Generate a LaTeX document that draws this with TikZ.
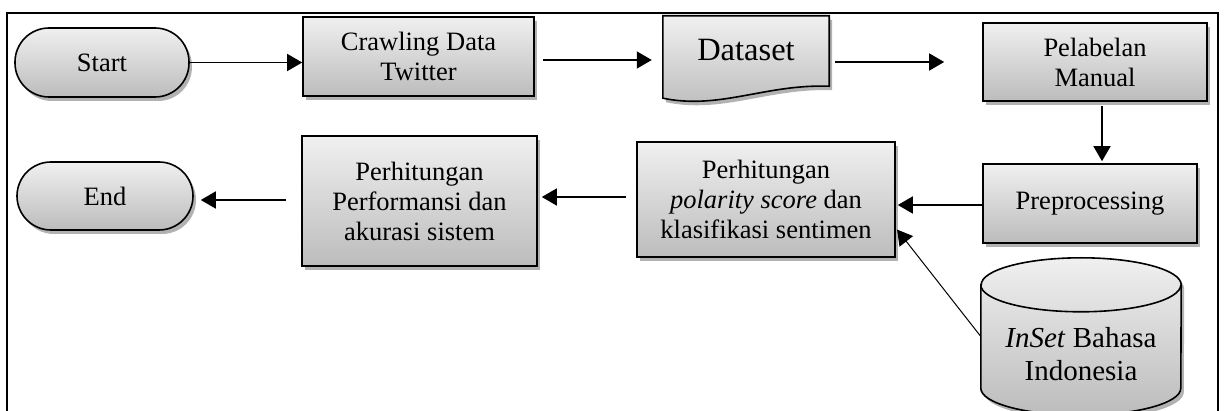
\documentclass[tikz,border=0pt]{standalone}
\usepackage{fontspec}
\setmainfont{Liberation Serif}
\usetikzlibrary{arrows.meta,shadows}
\definecolor{boxtop}{RGB}{240,240,240}
\definecolor{boxbot}{RGB}{188,188,188}
\tikzset{
  shd/.style={drop shadow={shadow xshift=3pt, shadow yshift=-4pt, opacity=0.3, fill=black}},
  box/.style={draw, line width=1.6pt, top color=boxtop, bottom color=boxbot, shd,
    font=\fontsize{26.5}{30}\selectfont, align=center, inner sep=0pt},
  term/.style={box, rounded corners=34pt},
  arr/.style={line width=1.5pt, -{Triangle[length=15pt,width=17pt]}},
  thinarr/.style={line width=1pt, -{Triangle[length=15pt,width=17pt]}},
  frame/.style={line width=1.8pt},
  plain/.style={inner sep=0pt, align=center}
}
\begin{document}
\begin{tikzpicture}[x=1pt,y=-1pt]
\useasboundingbox (0,0) rectangle (1229,411);
\draw[frame] (7,420) -- (7,13) -- (1218,13) -- (1218,420);

% nodes
\node[term, minimum width=174pt, minimum height=69pt] (start) at (102,62.5) {Start};
\node[box, minimum width=231pt, minimum height=79pt] (crawl) at (418.5,56.5) {Crawling Data\\Twitter};
\node[plain, minimum width=166pt, minimum height=70pt] (ds) at (746,51) {};
\path[draw, line width=1.6pt, top color=boxtop, bottom color=boxbot, shd]
  (ds.north west) -- ([yshift=-12pt]ds.south west)
  .. controls (720,110) and (765,84) .. (ds.south east) -- (ds.north east) -- cycle;
\node[plain, font=\fontsize{32.5}{36}\selectfont] (dstext) at ([yshift=1pt]ds.center) {Dataset};
\node[box, minimum width=224pt, minimum height=78pt] (pel) at (1095,62) {Pelabelan\\Manual};
\node[box, minimum width=214pt, minimum height=79pt] (pre) at (1090,203.5) {Preprocessing};
\node[box, minimum width=258pt, minimum height=115pt] (pol) at (766,199.5) {Perhitungan\\\textit{polarity score} dan\\klasifikasi sentimen};
\node[box, minimum width=235pt, minimum height=130pt] (perf) at (419.5,201) {Perhitungan\\Performansi dan\\akurasi sistem};
\node[term, minimum width=176pt, minimum height=68pt] (end) at (105,196) {End};

% cylinder
\node[plain, minimum width=200pt, minimum height=103pt] (db) at (1081,336.5) {};
\path[draw, line width=1.6pt, top color=boxtop, bottom color=boxbot, shd]
  (db.north west) -- (db.south west)
  arc[start angle=180, end angle=360, x radius=100pt, y radius=27pt]
  -- (db.north east)
  arc[start angle=0, end angle=180, x radius=100pt, y radius=27pt] -- cycle;
\draw[line width=1.6pt] (db.north west) arc[start angle=180, end angle=360, x radius=100pt, y radius=27pt];
\node[plain, font=\fontsize{29}{33}\selectfont] (dbtext) at (1081,354) {\textit{InSet} Bahasa\\Indonesia};

% connectors
\draw[arr] (start.east) -- (start.east -| crawl.west);
\draw[arr, shorten <=8pt, shorten >=11pt] (crawl.east |- 0,60) -- (ds.west |- 0,60);
\draw[arr, shorten <=6pt, shorten >=38pt] (ds.east |- pel.west) -- (pel.west);
\draw[arr, shorten <=4pt, shorten >=2pt] ([xshift=7pt]pel.south) -- ([xshift=12pt]pre.north);
\draw[arr, shorten >=2pt] (pre.west |- 0,205) -- (pol.east |- 0,205);
\draw[arr, shorten <=10pt, shorten >=4pt] (pol.west |- 0,197) -- (perf.east |- 0,197);
\draw[arr, shorten <=15pt, shorten >=7pt] (perf.west |- 0,200) -- (end.east |- 0,200);
\draw[thinarr, shorten >=2pt] (db.west) -- (pol.east |- 0,228);
\end{tikzpicture}
\end{document}
